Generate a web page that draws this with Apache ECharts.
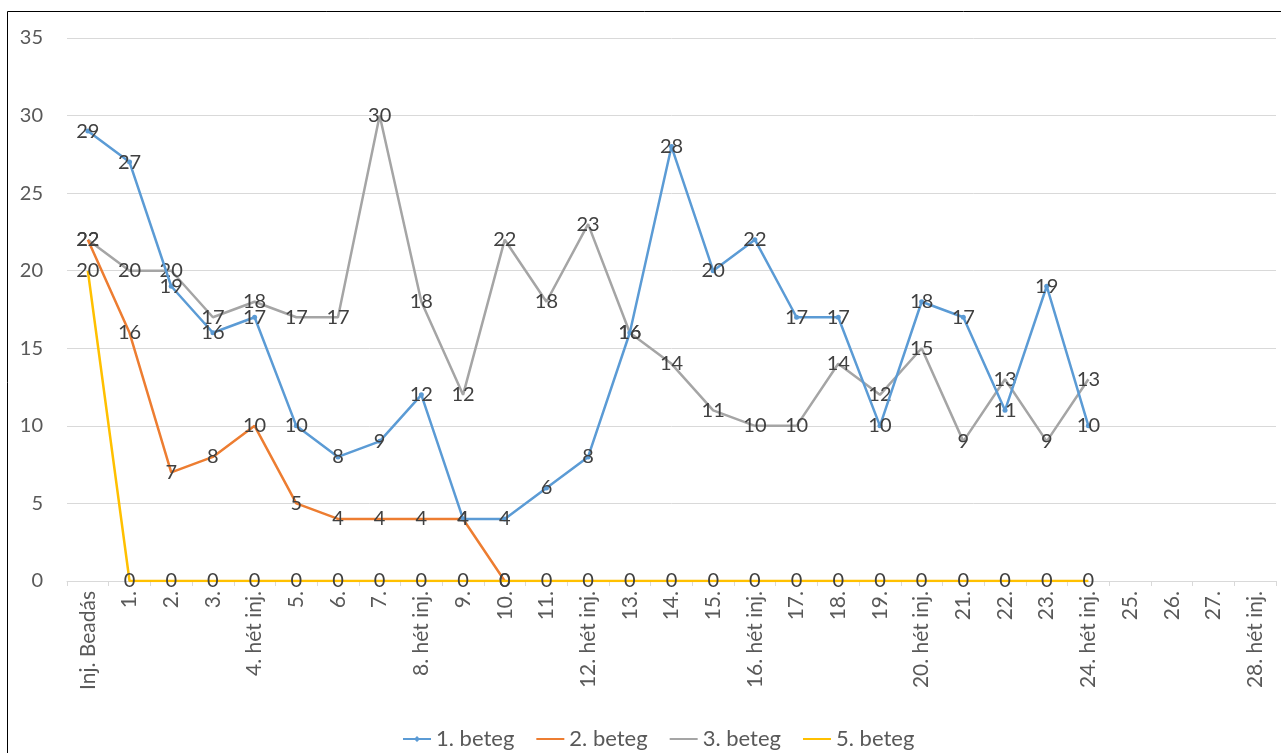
<!DOCTYPE html>
<html>
<head>
<meta charset="utf-8">
<script src="https://cdn.jsdelivr.net/npm/echarts@6/dist/echarts.min.js"></script>
<style>
html,body{margin:0;padding:0;background:#fff;}
#chart{width:1281px;height:753px;}
</style>
</head>
<body>
<div id="chart"></div>
<script>
const categories = ["Inj. Beadás","1.","2.","3.","4. hét inj.","5.","6.","7.","8. hét inj.","9.","10.","11.","12. hét inj.","13.","14.","15.","16. hét inj.","17.","18.","19.","20. hét inj.","21.","22.","23.","24. hét inj.","25.","26.","27.","28. hét inj."];
const seriesNames = ["1. beteg","2. beteg","3. beteg","5. beteg"];
const beteg1 = [29,27,19,16,17,10,8,9,12,4,4,6,8,16,28,20,22,17,17,10,18,17,11,19,10];
const beteg2 = [22,16,7,8,10,5,4,4,4,4,0];
const beteg3 = [22,20,20,17,18,17,17,30,18,12,22,18,23,16,14,11,10,10,14,12,15,9,13,9,13];
const beteg5 = [20,0,0,0,0,0,0,0,0,0,0,0,0,0,0,0,0,0,0,0,0,0,0,0,0];
const yTicks = {min:0, max:35, interval:5};

const colors = ["#5B9BD5","#ED7D31","#A5A5A5","#FFC000"];
const FONT = "Lato";
const labelCfg = {show:true, position:"inside", color:"#404040", fontSize:20, fontFamily:FONT};

const lineIcon = "path://M0,0M0,4H28V6H0ZM28,10";
const markerLineIcon = "path://M0,0M0,4H28V6H0ZM14,2L17,5L14,8L11,5ZM28,10";

function mk(name, data, color, withSymbol, z){
  return {
    name:name, type:"line", data:data,
    symbol: "circle",
    showSymbol: true,
    symbolSize: withSymbol ? 5 : 0,
    lineStyle:{color:color, width:2.5},
    itemStyle:{color:color},
    label:labelCfg,
    z:z,
    animation:false
  };
}

const chart = echarts.init(document.getElementById("chart"), null, {renderer:"canvas"});
chart.setOption({
  animation:false,
  color:colors,
  textStyle:{fontFamily:FONT},
  graphic:[{type:"rect", shape:{x:7.5,y:11.5,width:1290,height:760}, style:{fill:"none", stroke:"#000", lineWidth:1}, silent:true}],
  grid:{left:67, right:5, top:38, bottom:172, containLabel:false},
  legend:{
    top:723, left:398, itemWidth:28, itemHeight:10, itemGap:22,
    textStyle:{color:"#595959", fontSize:22, fontFamily:FONT},
    data:seriesNames.map(function(n,i){return {name:n, icon: i===0 ? markerLineIcon : lineIcon};})
  },
  xAxis:{
    type:"category", data:categories, boundaryGap:true,
    axisLine:{lineStyle:{color:"#d9d9d9", width:1}},
    axisTick:{show:true, interval:0, length:5, lineStyle:{color:"#d9d9d9"}},
    axisLabel:{interval:0, rotate:90, color:"#595959", fontSize:21, fontFamily:FONT, margin:10}
  },
  yAxis:{
    type:"value", min:yTicks.min, max:yTicks.max, interval:yTicks.interval,
    axisLine:{show:false}, axisTick:{show:false},
    splitLine:{lineStyle:{color:"#d9d9d9", width:1}},
    axisLabel:{color:"#595959", fontSize:20, fontFamily:FONT, margin:24}
  },
  series:[
    mk(seriesNames[0], beteg1, colors[0], true, 4),
    mk(seriesNames[1], beteg2, colors[1], false, 3),
    mk(seriesNames[2], beteg3, colors[2], false, 2),
    mk(seriesNames[3], beteg5, colors[3], false, 5)
  ]
});
</script>
</body>
</html>
